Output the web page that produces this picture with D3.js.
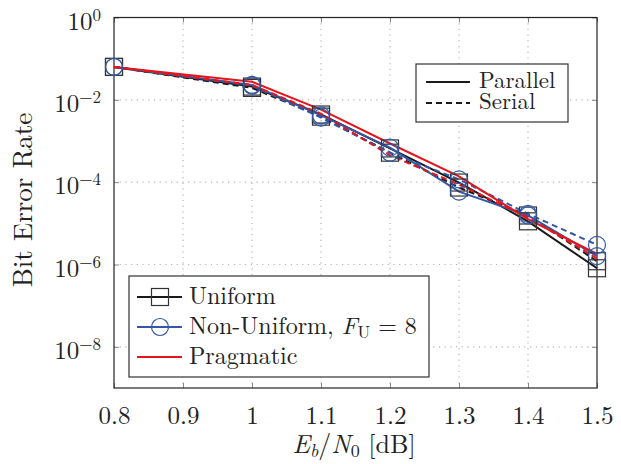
<!DOCTYPE html>
<html>
<head>
<meta charset="utf-8">
<script src="https://cdn.jsdelivr.net/npm/d3@7"></script>
<style>
  body { margin: 0; background: #fff; }
</style>
</head>
<body>
<div id="chart-area"></div>
<script>
// Eb/N0 points (dB)
const ebn0 = [0.8, 1.0, 1.1, 1.2, 1.3, 1.4, 1.5];

// bit error rates
const uniformPar    = [6.3e-2, 2.1e-2, 4.4e-3, 6.6e-4, 9.8e-5, 1.12e-5, 8.1e-7];
const uniformSer    = [6.3e-2, 1.95e-2, 3.9e-3, 5.2e-4, 7.4e-5, 1.55e-5, 1.2e-6];
const nonUniformPar = [6.3e-2, 2.3e-2, 4.2e-3, 6.9e-4, 5.9e-5, 1.55e-5, 1.6e-6];
const nonUniformSer = [6.3e-2, 2.2e-2, 3.7e-3, 5.2e-4, 1.17e-4, 1.7e-5, 3.0e-6];
const pragPar       = [6.3e-2, 2.75e-2, 5.8e-3, 8.7e-4, 1.38e-4, 1.26e-5, 1.8e-6];
const pragSer       = [6.3e-2, 2.3e-2, 4.6e-3, 4.5e-4, 8.7e-5, 1.4e-5, 1.4e-6];

const xTicks = [0.8, 0.9, 1.0, 1.1, 1.2, 1.3, 1.4, 1.5];
const yExps = [0, -2, -4, -6, -8];

const series = [
  { name: "Uniform, parallel", vals: uniformPar, color: "#1a1a1a", dash: null, marker: "square" },
  { name: "Uniform, serial", vals: uniformSer, color: "#1a1a1a", dash: "6,4", marker: "square" },
  { name: "Non-Uniform, parallel", vals: nonUniformPar, color: "#3358a6", dash: null, marker: "circle" },
  { name: "Non-Uniform, serial", vals: nonUniformSer, color: "#3358a6", dash: "6,4", marker: "circle" },
  { name: "Pragmatic, parallel", vals: pragPar, color: "#e3161d", dash: null, marker: null },
  { name: "Pragmatic, serial", vals: pragSer, color: "#e3161d", dash: "6,4", marker: null }
];

const FONT = '"Latin Modern Roman", "CMU Serif", "Liberation Serif", serif';
const W = 621, H = 464;
const MARGIN = { LEFT: 114, RIGHT: 24, TOP: 17.5, BOTTOM: 76 };
const WIDTH = W - MARGIN.LEFT - MARGIN.RIGHT;
const HEIGHT = H - MARGIN.TOP - MARGIN.BOTTOM;

const svg = d3.select("#chart-area").append("svg")
  .attr("width", W)
  .attr("height", H);

const g = svg.append("g")
  .attr("transform", `translate(${MARGIN.LEFT}, ${MARGIN.TOP})`);

const x = d3.scaleLinear().domain([0.8, 1.5]).range([0, WIDTH]);
const y = d3.scaleLog().domain([1e-9, 1]).range([HEIGHT, 0]);

// grid
g.append("g").selectAll("line").data(xTicks.slice(1, -1)).join("line")
  .attr("x1", d => x(d)).attr("x2", d => x(d))
  .attr("y1", 0).attr("y2", HEIGHT)
  .attr("stroke", "#b5b5b5").attr("stroke-width", 1.2)
  .attr("stroke-dasharray", "1.2,4.5");
g.append("g").selectAll("line").data(yExps.slice(1)).join("line")
  .attr("x1", 0).attr("x2", WIDTH)
  .attr("y1", d => y(Math.pow(10, d))).attr("y2", d => y(Math.pow(10, d)))
  .attr("stroke", "#b5b5b5").attr("stroke-width", 1.2)
  .attr("stroke-dasharray", "1.2,4.5");

// axes with inward ticks
const bottomAxis = d3.axisBottom(x).tickValues(xTicks).tickSize(-5).tickPadding(18)
  .tickFormat(d => d === 1 ? "1" : d3.format(".1f")(d));
const gx = g.append("g").attr("transform", `translate(0, ${HEIGHT})`).call(bottomAxis);
const topAxis = d3.axisTop(x).tickValues(xTicks).tickSize(-5).tickFormat("");
const gt = g.append("g").call(topAxis);
const leftAxis = d3.axisLeft(y).tickValues(yExps.map(e => Math.pow(10, e))).tickSize(-5).tickFormat("");
const gl = g.append("g").call(leftAxis);
const rightAxis = d3.axisRight(y).tickValues(yExps.map(e => Math.pow(10, e))).tickSize(-5).tickFormat("");
const gr = g.append("g").attr("transform", `translate(${WIDTH}, 0)`).call(rightAxis);

[gx, gt, gl, gr].forEach(a => {
  a.select(".domain").remove();
  a.selectAll(".tick line").attr("stroke", "#888").attr("stroke-width", 1);
});
gx.selectAll(".tick text")
  .style("font-family", FONT).style("font-size", "25px").attr("fill", "#222");

// y tick labels: 10^e
yExps.forEach(e => {
  const t = g.append("text")
    .attr("x", -13)
    .attr("y", y(Math.pow(10, e)) + 12)
    .attr("text-anchor", "end")
    .attr("fill", "#222")
    .style("font-family", FONT).style("font-size", "25px");
  t.append("tspan").text("10");
  t.append("tspan").attr("dy", -9).style("font-size", "17px")
    .text(e === 0 ? "0" : "\u2212" + Math.abs(e));
});

// frame
g.append("rect")
  .attr("width", WIDTH).attr("height", HEIGHT)
  .attr("fill", "none").attr("stroke", "#222").attr("stroke-width", 1.2);

// lines
const line = d3.line().x((d, i) => x(ebn0[i])).y(d => y(d));
g.append("g").selectAll("path").data(series).join("path")
  .attr("d", d => line(d.vals))
  .attr("fill", "none")
  .attr("stroke", d => d.color)
  .attr("stroke-width", 2)
  .attr("stroke-dasharray", d => d.dash);

// markers
const sq = 17;
series.filter(s => s.marker).forEach(s => {
  const mg = g.append("g");
  if (s.marker === "square") {
    mg.selectAll("rect").data(s.vals).join("rect")
      .attr("x", (d, i) => x(ebn0[i]) - sq / 2)
      .attr("y", d => y(d) - sq / 2)
      .attr("width", sq).attr("height", sq)
      .attr("fill", "none").attr("stroke", "#333").attr("stroke-width", 1.2);
  } else {
    mg.selectAll("circle").data(s.vals).join("circle")
      .attr("cx", (d, i) => x(ebn0[i]))
      .attr("cy", d => y(d))
      .attr("r", 8.5)
      .attr("fill", "none").attr("stroke", s.color).attr("stroke-width", 1.2);
  }
});

// axis titles
const xl = svg.append("text")
  .attr("x", 354).attr("y", 453)
  .attr("text-anchor", "middle").attr("fill", "#222")
  .style("font-family", FONT).style("font-size", "26px");
xl.append("tspan").style("font-style", "italic").text("E");
xl.append("tspan").style("font-style", "italic").style("font-size", "18px").attr("dy", 4).text("b");
xl.append("tspan").attr("dy", -4).text("/");
xl.append("tspan").style("font-style", "italic").text("N");
xl.append("tspan").style("font-size", "18px").attr("dy", 4).text("0");
xl.append("tspan").attr("dy", -4).text(" [dB]");

svg.append("text")
  .attr("transform", "translate(32, 200) rotate(-90)")
  .attr("text-anchor", "middle").attr("fill", "#222")
  .style("font-family", FONT).style("font-size", "27px")
  .text("Bit Error Rate");

// legend: Parallel / Serial
const l1 = svg.append("g").attr("transform", "translate(416, 64)");
l1.append("rect").attr("width", 152).attr("height", 58)
  .attr("fill", "#fff").attr("stroke", "#333").attr("stroke-width", 1.2);
[["Parallel", null], ["Serial", "6,4"]].forEach((d, i) => {
  const yy = 18 + i * 21;
  l1.append("line").attr("x1", 10).attr("x2", 54).attr("y1", yy).attr("y2", yy)
    .attr("stroke", "#1a1a1a").attr("stroke-width", 2).attr("stroke-dasharray", d[1]);
  l1.append("text").attr("x", 63).attr("y", yy + 6).attr("fill", "#222")
    .style("font-family", FONT).style("font-size", "23px").text(d[0]);
});

// legend: schemes
const l2 = svg.append("g").attr("transform", "translate(129, 276)");
l2.append("rect").attr("width", 300).attr("height", 101)
  .attr("fill", "#fff").attr("stroke", "#333").attr("stroke-width", 1.2);
const legendItems = [
  { label: "Uniform", color: "#1a1a1a", marker: "square" },
  { label: "Non-Uniform, ", color: "#3358a6", marker: "circle", fu: true },
  { label: "Pragmatic", color: "#e3161d", marker: null }
];
legendItems.forEach((d, i) => {
  const yy = 21 + i * 30;
  l2.append("line").attr("x1", 8).attr("x2", 53).attr("y1", yy).attr("y2", yy)
    .attr("stroke", d.color).attr("stroke-width", 2);
  if (d.marker === "square") {
    l2.append("rect").attr("x", 31 - sq / 2).attr("y", yy - sq / 2)
      .attr("width", sq).attr("height", sq)
      .attr("fill", "none").attr("stroke", "#333").attr("stroke-width", 1.2);
  } else if (d.marker === "circle") {
    l2.append("circle").attr("cx", 31).attr("cy", yy).attr("r", 8.5)
      .attr("fill", "none").attr("stroke", d.color).attr("stroke-width", 1.2);
  }
  const t = l2.append("text").attr("x", 60).attr("y", yy + 7).attr("fill", "#222")
    .style("font-family", FONT).style("font-size", "24px");
  t.append("tspan").text(d.label);
  if (d.fu) {
    t.append("tspan").style("font-style", "italic").text("F");
    t.append("tspan").style("font-size", "17px").attr("dy", 4).text("U");
    t.append("tspan").attr("dy", -4).text(" = 8");
  }
});
</script>
</body>
</html>
